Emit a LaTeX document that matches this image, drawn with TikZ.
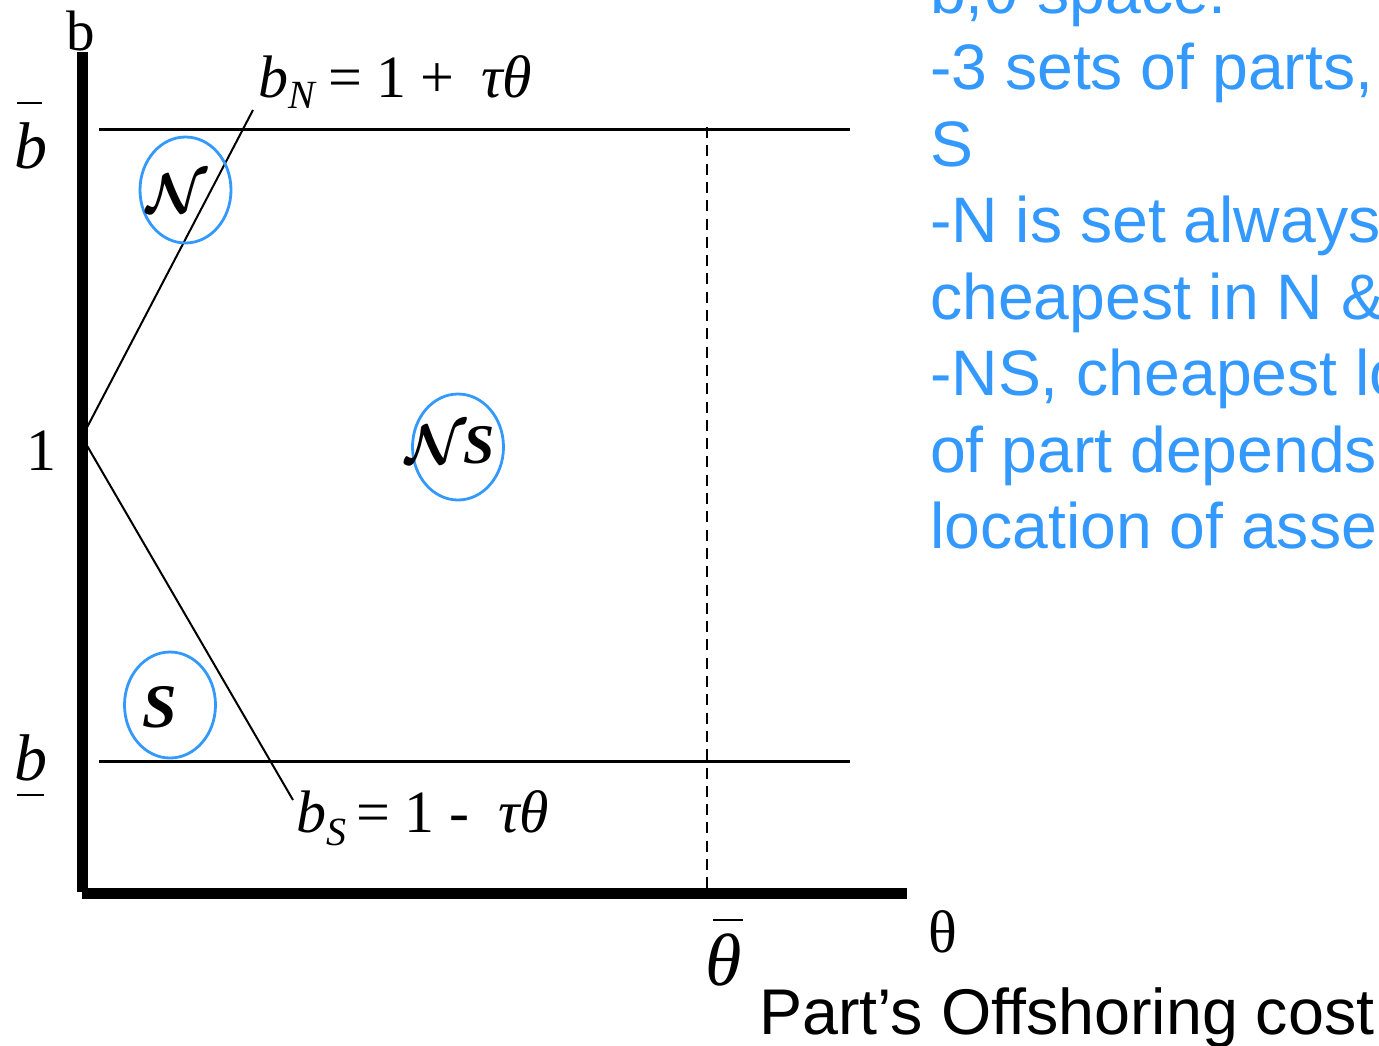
\RequirePackage{fix-cm}
\documentclass[tikz,border=0pt]{standalone}
\usepackage{amsmath}
\usepackage{fontspec}
\setmainfont{Liberation Serif}
\newfontfamily\arialfont{Liberation Sans}
\usetikzlibrary{shapes.geometric}
\definecolor{skyblue}{RGB}{51,153,255}
% #1 glyph, #2 bar x offset, #3 bar raise, #4 bar width
\newcommand\withbar[4]{\leavevmode\makebox[0pt][l]{\hspace*{#2}\rule[#3]{#4}{2.6pt}}#1}
\begin{document}
\begin{tikzpicture}[x=1pt,y=-1pt,
  axisline/.style={line width=10.5pt},
  guide/.style={line width=2.7pt},
  ray/.style={line width=2pt},
  region/.style={draw=skyblue,line width=2.8pt,ellipse,inner sep=0pt,minimum width=91pt,minimum height=106pt},
  lab/.style={inner sep=0pt,font=\fontsize{60}{60}\selectfont},
  bluetxt/.style={inner sep=0pt,anchor=base west,text=skyblue,font=\arialfont\fontsize{64.3}{76.5}\selectfont}]
\useasboundingbox (0,0) rectangle (1379,1045);
\clip (0,0) rectangle (1379,1045);

% guide lines
\coordinate (tl) at (99,129.5);
\coordinate (tr) at (850,129.5);
\coordinate (bl) at (99,761.3);
\coordinate (br) at (850,761.3);
\coordinate (dtop) at (707,127);
\coordinate (dbot) at (707,893);
\draw[guide] (tl) -- (tr);
\draw[guide] (bl) -- (br);
\draw[guide,dash pattern=on 11pt off 7.3pt] (dtop) -- (dbot);

% rays
\coordinate (v) at (82,437);
\coordinate (nend) at (253,110);
\coordinate (send) at (293,800);
\draw[ray] (v) -- (nend);
\draw[ray] (v) -- (send);

% axes
\coordinate (ytop) at (82.5,52);
\coordinate (ybot) at (82.5,892);
\coordinate (xl) at (82,893.5);
\coordinate (xr) at (906.7,893.5);
\draw[axisline] (ybot) -- (ytop);
\draw[axisline] (xl) -- (xr);

% axis labels
\node[lab,anchor=base,font=\fontsize{57}{57}\selectfont] (blab) at (80.5,50) {b};
\node[lab,anchor=base west,font=\fontsize{66}{66}\selectfont] (bbar) at (14,168) {\withbar{\itshape b}{3pt}{63.7pt}{25pt}};
\node[lab,anchor=base] (one) at (42,470) {1};
\node[lab,anchor=base west,font=\fontsize{66}{66}\selectfont] (bunder) at (14,780) {\withbar{\itshape b}{3pt}{-16.3pt}{27pt}};
\node[lab,anchor=base] (thlab) at (943,952) {θ};
\node[lab,anchor=base west,font=\fontsize{74}{74}\selectfont] (thbar) at (705,985) {\withbar{\itshape θ}{8pt}{63.7pt}{30pt}};

% equations
\node[lab,anchor=base west] (eqN) at (258,97) {\textit{b}\raisebox{-11pt}{\fontsize{40}{40}\selectfont\textit{N}}\hspace{12pt}=\hspace{14pt}1\hspace{14pt}+\hspace{27pt}\textit{τθ}};
\node[lab,anchor=base west] (eqS) at (296,832) {\textit{b}\raisebox{-13pt}{\fontsize{40}{40}\selectfont\textit{S}}\hspace{10pt}=\hspace{14pt}1\hspace{16pt}-\hspace{28pt}\textit{τθ}};

% regions
\node[region] (eN) at (185.5,190) {};
\node[region] (eNS) at (458,447) {};
\node[region] (eS) at (170,705) {};
\node[lab,font=\fontsize{56}{56}\selectfont] (tN) at (177,193) {$\boldsymbol{\mathcal{N}}$};
\node[lab,font=\fontsize{56}{56}\selectfont] (tNS) at (450,445) {$\boldsymbol{\mathcal{N}}$\hspace{-3pt}\textbf{\textit{S}}};
\node[lab,font=\fontsize{62}{62}\selectfont] (tS) at (160,707) {\textbf{\textit{S}}};

% right-hand notes
\node[bluetxt] (r1) at (930,13) {b,θ space:};
\node[bluetxt] (r2) at (930,89.5) {-3 sets of parts, N, NS,};
\node[bluetxt] (r3) at (930,166) {S};
\node[bluetxt] (r4) at (930,242.5) {-N is set always};
\node[bluetxt] (r5) at (930,319) {cheapest in N \& S};
\node[bluetxt] (r6) at (930,395.5) {-NS, cheapest location};
\node[bluetxt] (r7) at (930,472) {of part depends on};
\node[bluetxt] (r8) at (930,548.5) {location of assembly};

% caption
\node[inner sep=0pt,anchor=base west,font=\arialfont\fontsize{64.6}{64.6}\selectfont] (cap) at (759,1034) {Part’s Offshoring cost};
\end{tikzpicture}
\end{document}
